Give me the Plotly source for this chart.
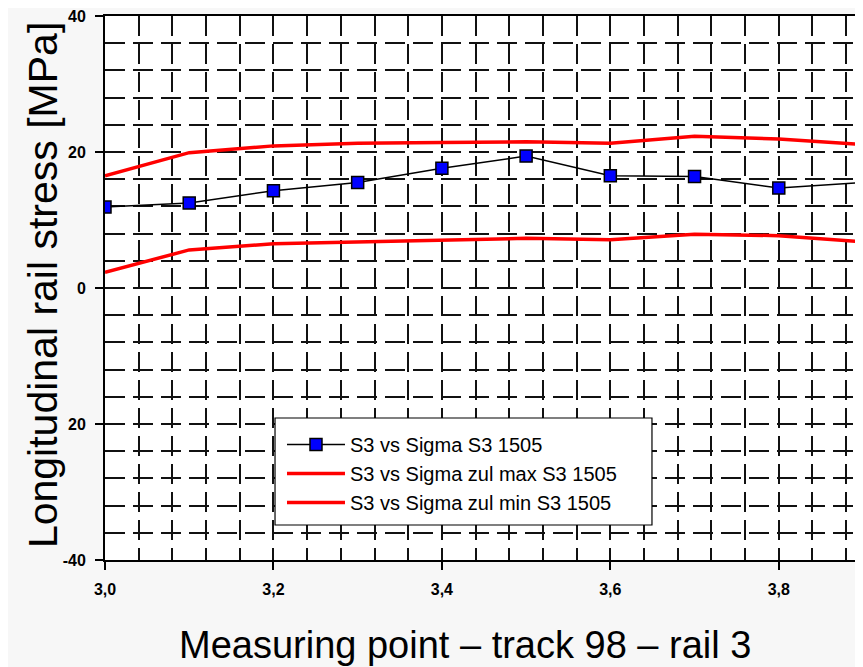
import plotly.graph_objects as go

# Data
x_points = [3.0, 3.1, 3.2, 3.3, 3.4, 3.5, 3.6, 3.7, 3.8, 3.9]
sigma_s3 = [11.9, 12.5, 14.3, 15.5, 17.6, 19.4, 16.5, 16.4, 14.7, 15.5]
sigma_max = [16.5, 19.9, 20.9, 21.3, 21.4, 21.5, 21.3, 22.3, 21.9, 21.1]
sigma_min = [2.3, 5.6, 6.5, 6.8, 7.1, 7.3, 7.1, 7.9, 7.7, 6.8]

x_tickvals = [3.0, 3.2, 3.4, 3.6, 3.8]
x_ticktext = ["3,0", "3,2", "3,4", "3,6", "3,8"]
y_tickvals = [-40, -20, 0, 20, 40]
y_ticktext = ["-40", "20", "0", "20", "40"]

names = ["S3 vs Sigma S3 1505", "S3 vs Sigma zul max S3 1505", "S3 vs Sigma zul min S3 1505"]

fig = go.Figure()
fig.add_trace(go.Scatter(
    x=x_points, y=sigma_s3, name=names[0], mode="lines+markers",
    line=dict(color="black", width=1.5),
    marker=dict(symbol="square", size=12, color="#0000ff", line=dict(color="black", width=1.5)),
))
fig.add_trace(go.Scatter(
    x=x_points, y=sigma_max, name=names[1], mode="lines",
    line=dict(color="#ff0000", width=3.5),
))
fig.add_trace(go.Scatter(
    x=x_points, y=sigma_min, name=names[2], mode="lines",
    line=dict(color="#ff0000", width=3.5),
))

grid_style = dict(gridcolor="#111111", gridwidth=1.8, griddash="20px,8px")
tickfont = dict(family="Liberation Sans, Arial, sans-serif", size=16, color="black", weight="bold")

fig.update_layout(
    width=855, height=659,
    margin=dict(l=97, r=0, t=8, b=107),
    paper_bgcolor="#f7f7f7", plot_bgcolor="white",
    showlegend=True,
    legend=dict(
        x=0.2335, y=0.248, xanchor="left", yanchor="top",
        bgcolor="rgba(0,0,0,0)", borderwidth=0,
        font=dict(family="Liberation Sans, Arial, sans-serif", size=20, color="black"),
        tracegroupgap=0, itemwidth=58,
    ),
    shapes=[
        dict(type="rect", xref="paper", yref="paper", x0=0.2243, x1=0.7216, y0=0.0643, y1=0.261,
             fillcolor="white", line=dict(color="black", width=1.2), layer="above"),
    ],
    xaxis=dict(
        range=[3.0, 3.9], tickvals=x_tickvals, ticktext=x_ticktext,
        ticks="outside", ticklen=8, tickwidth=1.5, tickcolor="black",
        showline=True, linecolor="black", linewidth=2, mirror=True,
        showgrid=True, zeroline=False, ticklabeloverflow="allow",
        minor=dict(dtick=0.04, tick0=3.0, showgrid=True, ticks="", **grid_style),
        tickfont=tickfont, ticklabelstandoff=6,
        **grid_style,
    ),
    yaxis=dict(
        range=[-40, 40], tickvals=y_tickvals, ticktext=y_ticktext,
        ticks="outside", ticklen=8, tickwidth=1.5, tickcolor="black",
        showline=True, linecolor="black", linewidth=2,
        showgrid=True, zeroline=False, ticklabeloverflow="allow",
        minor=dict(dtick=4, tick0=0, showgrid=True, ticks="", **grid_style),
        tickfont=tickfont, ticklabelstandoff=6,
        **grid_style,
    ),
    annotations=[
        dict(text="Measuring point – track 98 – rail 3", xref="paper", yref="paper",
             x=0.475, y=-0.156, xanchor="center", yanchor="middle", showarrow=False,
             font=dict(family="Liberation Sans, Arial, sans-serif", size=38, color="black")),
        dict(text="Longitudinal rail stress [MPa]", xref="paper", yref="paper",
             x=-0.082, y=0.505, xanchor="center", yanchor="middle", showarrow=False,
             textangle=-90,
             font=dict(family="Liberation Sans, Arial, sans-serif", size=41, color="black")),
    ],
)

fig.write_html("out.html")
